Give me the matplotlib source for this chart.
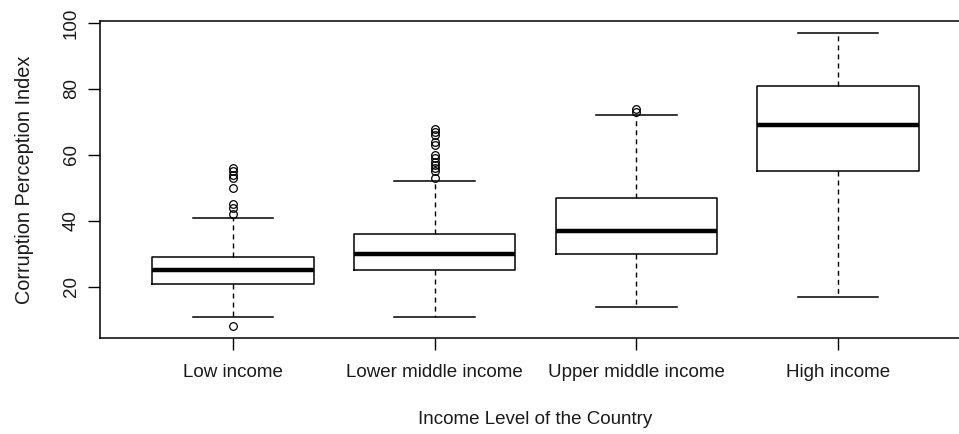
import matplotlib
matplotlib.use('Agg')
import matplotlib.pyplot as plt

# Categorias e estatisticas (boxplot do R)
grupos = ['Low income', 'Lower middle income', 'Upper middle income', 'High income']
mediana = [25, 30, 37, 69]
q1 = [21, 25, 30, 55]
q3 = [29, 36, 47, 81]
bigode_inf = [11, 11, 14, 17]
bigode_sup = [41, 52, 72, 97]
outliers = [
    [8, 56, 55, 54, 53, 50, 45, 44, 42],
    [68, 67, 66, 64, 63, 60, 59, 58, 57, 56, 55, 53],
    [74, 73],
    [],
]
yticks = [20, 40, 60, 80, 100]

plt.rcParams['font.family'] = ['Liberation Sans', 'DejaVu Sans']
cor_texto = '#1a1a1a'

fig = plt.figure(figsize=(9.59, 4.34), dpi=100)
ax = fig.add_axes([100 / 959, 96 / 434, 871 / 959, 317 / 434])

stats = []
for i in range(len(grupos)):
    stats.append({
        'med': mediana[i], 'q1': q1[i], 'q3': q3[i],
        'whislo': bigode_inf[i], 'whishi': bigode_sup[i],
        'fliers': outliers[i], 'label': grupos[i],
    })

ax.bxp(stats, positions=range(1, len(grupos) + 1), widths=0.8,
       boxprops=dict(color='black', linewidth=1.1),
       medianprops=dict(color='black', linewidth=3.2, solid_capstyle='butt'),
       whiskerprops=dict(color='black', linewidth=1.0, linestyle=(0, (3.6, 2.9))),
       capprops=dict(color='black', linewidth=1.1),
       capwidths=0.4,
       flierprops=dict(marker='o', markerfacecolor='none', markeredgecolor='black',
                       markersize=5.5, markeredgewidth=0.9))

ax.set_xlim(0.34, 4.66)
ax.set_ylim(4.5, 100.6)
ax.set_yticks(yticks)
ax.set_yticklabels([str(v) for v in yticks], rotation=90, va='center')
ax.set_xticks(range(1, len(grupos) + 1))
ax.set_xticklabels(grupos)
ax.tick_params(direction='out', length=8.5, width=1.0, colors='black',
               labelcolor=cor_texto, labelsize=13.5, pad=6)
ax.tick_params(axis='x', pad=10)
for s in ax.spines.values():
    s.set_linewidth(1.1)

ax.set_xlabel('Income Level of the Country', fontsize=13.5, color=cor_texto, labelpad=22)
ax.set_ylabel('Corruption Perception Index', fontsize=14.3, color=cor_texto, labelpad=21)

fig.savefig('out.png', dpi=100)
